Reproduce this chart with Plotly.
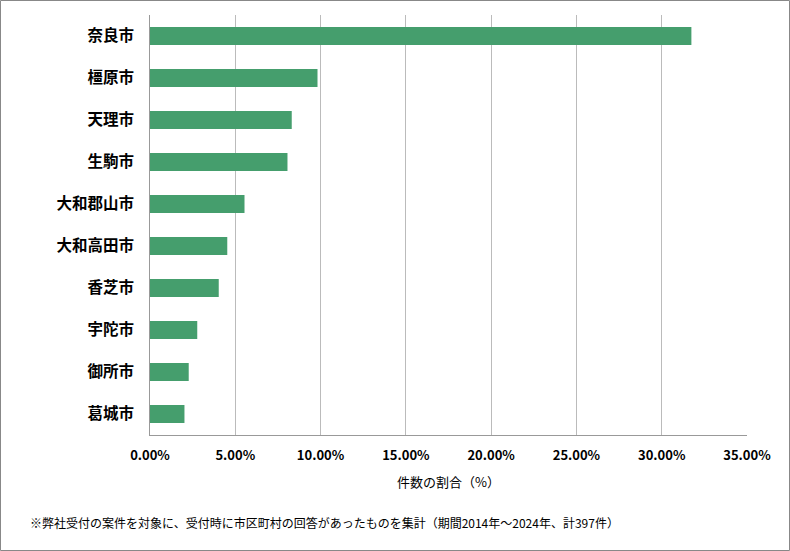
import plotly.graph_objects as go

cities = ["奈良市", "橿原市", "天理市", "生駒市", "大和郡山市", "大和高田市", "香芝市", "宇陀市", "御所市", "葛城市"]
shares = [0.3174, 0.0982, 0.0831, 0.0806, 0.0554, 0.0453, 0.0403, 0.0277, 0.0227, 0.0202]
x_ticks = [0, 0.05, 0.10, 0.15, 0.20, 0.25, 0.30, 0.35]

W, H = 790, 551
L, R, T, B = 150, 43, 15, 116
pw, ph = W - L - R, H - T - B

fig = go.Figure(go.Bar(
    x=shares, y=cities, orientation="h",
    marker=dict(color="#459E6D", line=dict(width=0)),
    width=0.43,
))

fig.update_layout(
    width=W, height=H,
    margin=dict(l=L, r=R, t=T, b=B),
    paper_bgcolor="white", plot_bgcolor="white",
    showlegend=False,
    font=dict(family="Noto Sans CJK JP", color="#000"),
    xaxis=dict(
        range=[0, 0.35], tickvals=x_ticks, tickformat=".2%",
        showgrid=True, gridcolor="#BBBBBB", gridwidth=1,
        showline=True, linecolor="#999999", linewidth=1,
        zeroline=False, ticks="", ticklen=0,
        tickfont=dict(size=13, weight="bold", family="Noto Sans CJK JP"),
        ticklabelstandoff=8,
        title=dict(text="件数の割合（%）", font=dict(size=13), standoff=15),
    ),
    yaxis=dict(
        autorange="reversed",
        showline=True, linecolor="#999999", linewidth=1,
        showgrid=False, zeroline=False, ticks="",
        tickfont=dict(size=15.5, weight="bold", family="Noto Sans CJK JP"),
        ticklabelstandoff=12,
    ),
)

fig.add_annotation(
    text="※弊社受付の案件を対象に、受付時に市区町村の回答があったものを集計（期間2014年～2024年、計397件）",
    xref="paper", yref="paper",
    x=(28 - L) / pw, y=(H - B - 522) / ph,
    xanchor="left", yanchor="middle", showarrow=False,
    font=dict(size=12, color="#000"),
)

fig.add_shape(
    type="rect", xref="paper", yref="paper",
    x0=(0.5 - L) / pw, x1=(W - 0.5 - L) / pw,
    y0=(H - B - (H - 0.5)) / ph, y1=(H - B - 0.5) / ph,
    line=dict(color="#888888", width=1), fillcolor="rgba(0,0,0,0)",
)

fig.write_html("out.html")
